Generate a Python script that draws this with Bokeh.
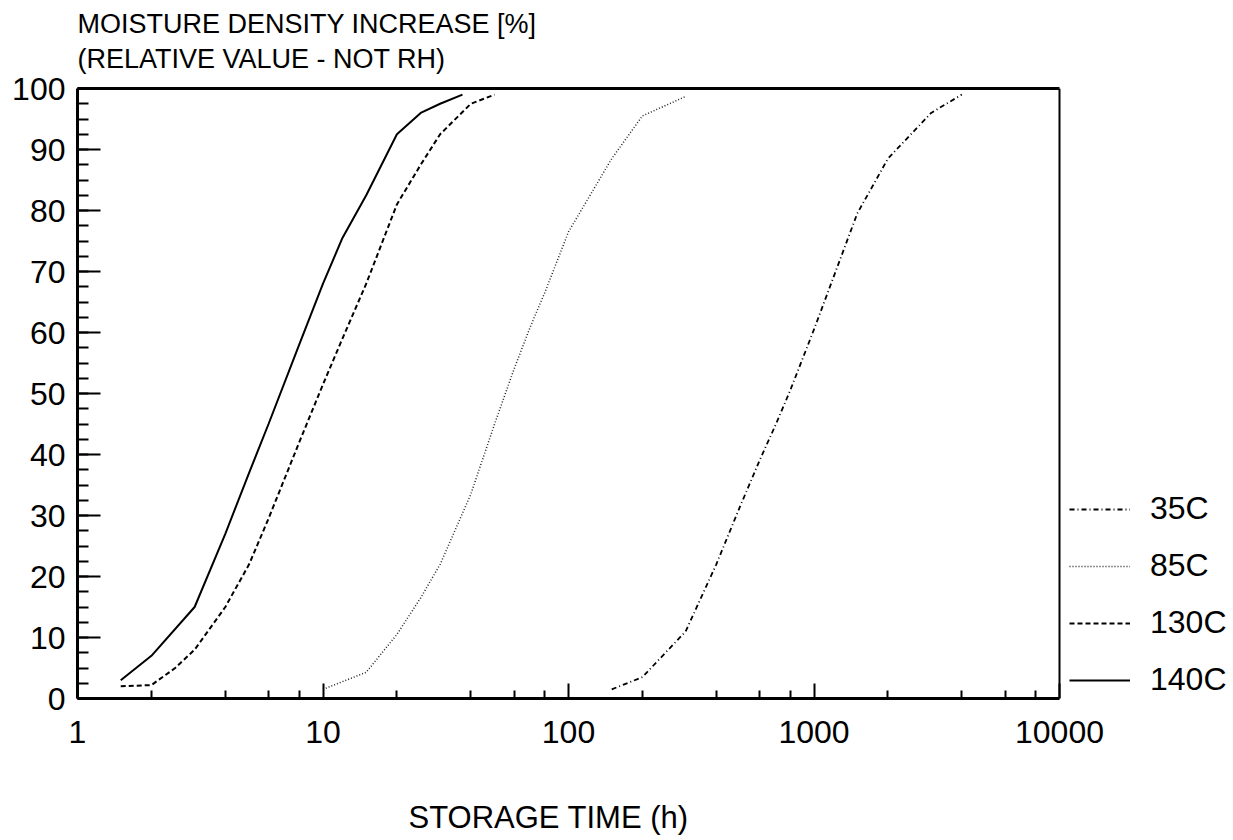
import math
from bokeh.plotting import figure
from bokeh.models import (FixedTicker, Title, Legend, LegendItem, Range1d,
                          NumeralTickFormatter, LogAxis, Span)
from bokeh.embed import file_html
from bokeh.resources import INLINE

# ---------------- data ----------------
x_ticks = [1, 10, 100, 1000, 10000]
x_minor = [m * d for d in [1, 10, 100, 1000] for m in [2, 4, 6, 8]]
y_ticks = [0, 10, 20, 30, 40, 50, 60, 70, 80, 90, 100]
y_minor = [i * 2.5 for i in range(41)]

t140_x = [1.5, 2, 3, 4, 5, 6, 8, 10, 12, 15, 20, 25, 30, 37]
t140_y = [3, 7, 15, 27, 37, 45, 58, 68, 75.5, 82.5, 92.5, 96, 97.5, 99]

t130_x = [1.5, 2, 2.5, 3, 4, 5, 6, 8, 10, 12, 15, 20, 25, 30, 40, 50]
t130_y = [2, 2.2, 5, 8, 15, 22, 29.5, 42, 51.5, 59, 68, 81, 87.5, 92.5, 97.5, 99]

t85_x = [10, 15, 20, 25, 30, 40, 50, 60, 70, 80, 100, 150, 200, 300]
t85_y = [1.5, 4.3, 10.5, 16.5, 22, 33.5, 45, 54, 61, 66.5, 76.5, 88.5, 95.5, 98.7]

t35_x = [150, 200, 300, 400, 500, 600, 700, 800, 1000, 1500, 2000, 3000, 4000]
t35_y = [1.5, 3.5, 11, 22, 31.5, 39, 45, 50.5, 60.5, 79.5, 88.5, 96, 99]

labels = ["35C", "85C", "130C", "140C"]

title_1 = "MOISTURE DENSITY INCREASE [%]"
title_2 = "(RELATIVE VALUE - NOT RH)"
x_title = "STORAGE TIME (h)"

FONT = "Liberation Sans"

# ---------------- layout geometry (pixels) ----------------
W, H = 1230, 840
LEFT, TOP, AX_RIGHT, BOTTOM = 77, 88, 1059, 698   # plot box edges on canvas
decade_px = (AX_RIGHT - LEFT) / math.log10(x_ticks[-1] / x_ticks[0])
x_end = x_ticks[0] * 10 ** ((W - LEFT) / decade_px)   # frame extends under legend

p = figure(width=W, height=H, x_axis_type="log",
           x_range=Range1d(x_ticks[0], x_end), y_range=Range1d(y_ticks[0], y_ticks[-1]),
           output_backend="svg", toolbar_location=None, title=None,
           min_border_left=LEFT, min_border_right=0,
           min_border_top=TOP, min_border_bottom=H - BOTTOM)

p.background_fill_color = "white"
p.border_fill_color = "white"
p.outline_line_color = None
p.grid.visible = False

# axes
p.xaxis.ticker = FixedTicker(ticks=x_ticks, minor_ticks=x_minor)
p.xaxis.formatter = NumeralTickFormatter(format="0")
p.xaxis.bounds = (x_ticks[0], x_ticks[-1])
p.yaxis.ticker = FixedTicker(ticks=y_ticks, minor_ticks=y_minor)

for ax in [p.xaxis[0], p.yaxis[0]]:
    ax.axis_line_width = 3
    ax.axis_line_color = "black"
    ax.major_tick_out = 0
    ax.minor_tick_out = 0
    ax.major_tick_line_width = 2
    ax.minor_tick_line_width = 2
    ax.major_tick_line_color = "black"
    ax.minor_tick_line_color = "black"
    ax.major_label_text_font = FONT
    ax.major_label_text_font_size = "32px"
    ax.major_label_text_color = "black"

p.xaxis.major_tick_in = 15
p.xaxis.minor_tick_in = 8
p.xaxis.major_label_standoff = 22
p.yaxis.major_tick_in = 23
p.yaxis.minor_tick_in = 11
p.yaxis.major_label_standoff = 12

# top border of the plot box (axis line only)
top_axis = LogAxis(bounds=(x_ticks[0], x_ticks[-1]), ticker=FixedTicker(ticks=[]),
                   axis_line_width=3, axis_line_color="black",
                   major_tick_in=0, major_tick_out=0, minor_tick_in=0, minor_tick_out=0,
                   major_label_standoff=0, major_label_text_font_size="0px")
p.add_layout(top_axis, "above")

# right border of the plot box
p.add_layout(Span(location=x_ticks[-1], dimension="height",
                  line_color="black", line_width=2))

# curves
r35 = p.line(t35_x, t35_y, line_color="black", line_width=1.8, line_dash="5 3 1 3")
r85 = p.line(t85_x, t85_y, line_color="#222222", line_width=1.5, line_dash="1 2")
r130 = p.line(t130_x, t130_y, line_color="black", line_width=2, line_dash="5 3")
r140 = p.line(t140_x, t140_y, line_color="black", line_width=2)

legend = Legend(items=[LegendItem(label=labels[0], renderers=[r35]),
                       LegendItem(label=labels[1], renderers=[r85]),
                       LegendItem(label=labels[2], renderers=[r130]),
                       LegendItem(label=labels[3], renderers=[r140])],
                location=(1069 - LEFT, 0))
legend.border_line_color = None
legend.background_fill_alpha = 0
legend.padding = 0
legend.margin = 0
legend.glyph_width = 61
legend.glyph_height = 36
legend.label_height = 36
legend.label_standoff = 20
legend.spacing = 20
legend.label_text_font = FONT
legend.label_text_font_size = "32px"
legend.label_text_color = "black"
p.add_layout(legend)

# titles (stacked outward from the plot box)
top_gap = Title(text=" ", text_font=FONT, text_font_size="10px", standoff=2)
t2 = Title(text=title_2, align="left", text_font=FONT, text_font_size="27px",
           text_font_style="normal", text_color="black", standoff=0)
t1 = Title(text=title_1, align="left", text_font=FONT, text_font_size="27px",
           text_font_style="normal", text_color="black", standoff=6)
p.add_layout(top_gap, "above")
p.add_layout(t2, "above")
p.add_layout(t1, "above")

bottom_gap = Title(text=" ", text_font=FONT, text_font_size="10px", standoff=39)
p.add_layout(bottom_gap, "below")
xt = Title(text=x_title, align="left", offset=331, text_font=FONT, text_font_size="31px",
           text_font_style="normal", text_color="black", standoff=0)
p.add_layout(xt, "below")

open("out.html", "w").write(file_html(p, INLINE))
